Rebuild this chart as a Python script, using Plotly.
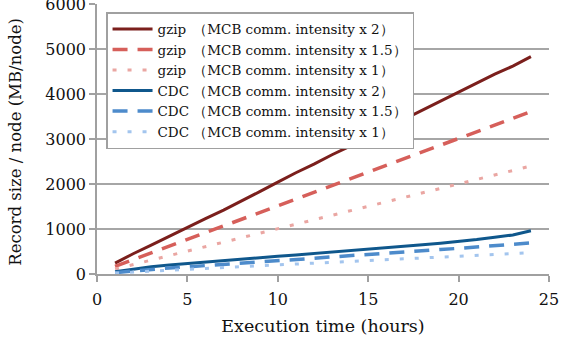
import plotly.graph_objects as go

hours = list(range(1, 25))

gzip_x2 = [240, 450, 640, 840, 1040, 1230, 1420, 1620, 1830, 2040, 2250, 2440,
           2650, 2840, 3050, 3250, 3440, 3640, 3830, 4030, 4230, 4440, 4620, 4830]
gzip_x15 = [170, 320, 470, 620, 760, 910, 1060, 1210, 1350, 1500, 1650, 1800,
            1950, 2100, 2250, 2400, 2550, 2700, 2860, 3010, 3160, 3310, 3460, 3610]
gzip_x1 = [110, 210, 310, 410, 510, 610, 710, 810, 910, 1010, 1110, 1210,
           1310, 1410, 1510, 1610, 1710, 1810, 1910, 2010, 2110, 2210, 2300, 2400]
cdc_x2 = [50, 110, 160, 200, 235, 265, 295, 325, 360, 395, 425, 455,
          485, 515, 548, 580, 615, 650, 685, 718, 765, 815, 867, 960]
cdc_x15 = [30, 70, 105, 135, 160, 185, 210, 235, 262, 290, 320, 350,
           380, 410, 440, 465, 490, 518, 545, 570, 600, 630, 660, 690]
cdc_x1 = [20, 45, 65, 85, 105, 125, 145, 165, 185, 205, 225, 245,
          265, 287, 308, 328, 347, 366, 385, 403, 420, 437, 455, 472]

names = [
    "gzip\u2009 （MCB comm. intensity x 2）",
    "gzip\u2009 （MCB comm. intensity x 1.5）",
    "gzip\u2009 （MCB comm. intensity x 1）",
    "CDC （MCB comm. intensity x 2）",
    "CDC （MCB comm. intensity x 1.5）",
    "CDC （MCB comm. intensity x 1）",
]
series = [gzip_x2, gzip_x15, gzip_x1, cdc_x2, cdc_x15, cdc_x1]
colors = ["#7b1f1c", "#d65f5a", "#eaa6a2", "#0f578c", "#4d8bcb", "#a3c5ee"]
dashes = ["solid", "15px,10px", "4px,11px", "solid", "15px,10px", "4px,11px"]
widths = [3, 3.5, 3, 3, 3.5, 3]

fig = go.Figure()
for n, s, c, d, w in zip(names, series, colors, dashes, widths):
    fig.add_trace(go.Scatter(x=hours, y=s, mode="lines", name=n,
                             line=dict(color=c, dash=d, width=w)))

font = "DejaVu Serif"
tickf = dict(family=font, size=16, color="#111")
fig.update_layout(
    width=562, height=344,
    margin=dict(l=97, r=13, t=4, b=70, autoexpand=False),
    paper_bgcolor="white", plot_bgcolor="white",
    font=dict(family=font, size=16, color="#111"),
    showlegend=True,
    legend=dict(x=0.02, y=0.97, xanchor="left", yanchor="top",
                bgcolor="white", bordercolor="#a0a0a0", borderwidth=1.5,
                font=dict(family=font, size=13.5, color="#111"),
                itemwidth=40, tracegroupgap=0),
    xaxis=dict(range=[0, 25], tickvals=[0, 5, 10, 15, 20, 25],
               showgrid=False, zeroline=False, automargin=False,
               showline=True, linecolor="#a0a0a0", linewidth=1.5,
               ticks="outside", ticklen=6, tickcolor="#a0a0a0", tickwidth=1.5,
               tickfont=tickf, ticklabelstandoff=4,
               title=dict(text="Execution time (hours)", standoff=12,
                          font=dict(family=font, size=17.5, color="#111"))),
    yaxis=dict(range=[0, 6000], tickvals=[0, 1000, 2000, 3000, 4000, 5000, 6000],
               showgrid=True, gridcolor="#a6a6a6", gridwidth=1.5,
               zeroline=False, automargin=False,
               showline=True, linecolor="#a0a0a0", linewidth=1.5,
               ticks="outside", ticklen=6, tickcolor="#a0a0a0", tickwidth=1.5,
               tickfont=tickf, ticklabeloverflow="allow"),
    annotations=[dict(text="Record size / node (MB/node)", textangle=-90,
                      xref="paper", yref="paper", x=-0.179, y=0.49,
                      xanchor="center", yanchor="middle", showarrow=False,
                      font=dict(family=font, size=16.5, color="#111"))],
)

fig.write_html("out.html")
